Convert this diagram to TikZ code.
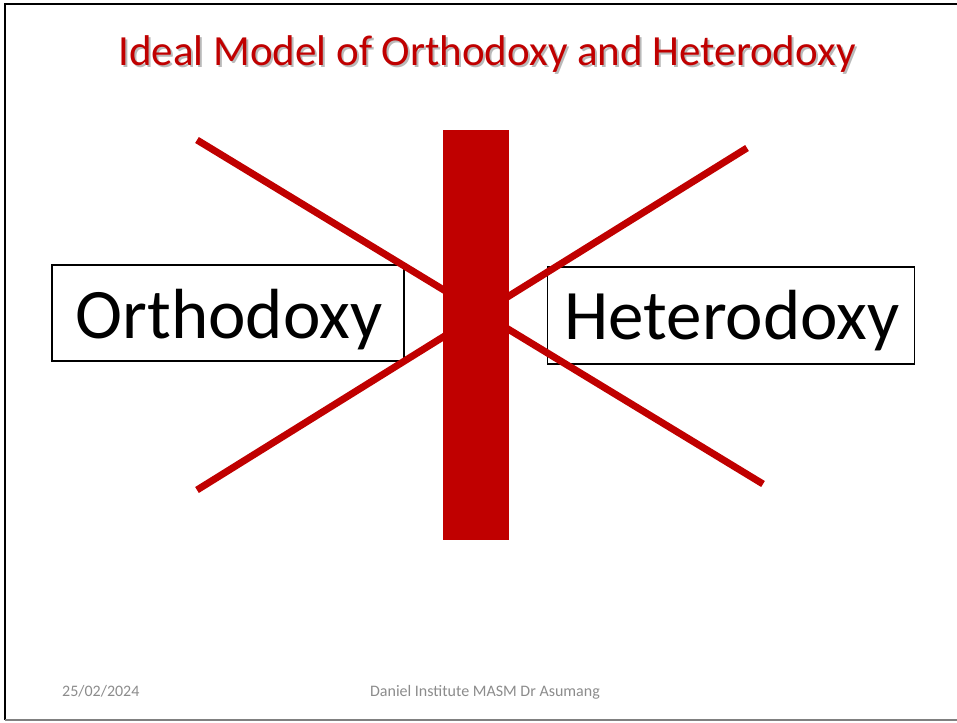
\documentclass[tikz,border=0pt]{standalone}
\usepackage{fontspec}
\setmainfont{Carlito}
\definecolor{dred}{HTML}{C00000}
\definecolor{footgray}{HTML}{8C8C8C}
\newcommand{\shadowtitle}[1]{\makebox[0pt][l]{\hspace{2pt}\raisebox{-1.5pt}{\textcolor{gray!55}{#1}}}\textcolor{dred}{#1}}
\begin{document}
\begin{tikzpicture}[x=1pt,y=-1pt,
  termbox/.style={draw=black,line width=1.6pt,fill=white,inner sep=0pt},
  termtext/.style={font=\fontsize{71}{80}\selectfont,inner sep=0pt,anchor=base},
  xline/.style={draw=dred,line width=7pt},
  titletext/.style={font=\fontsize{43}{50}\selectfont,inner sep=0pt,anchor=base},
  foot/.style={text=footgray,font=\fontsize{16}{18}\selectfont,inner sep=0pt,anchor=base}]
\useasboundingbox (0,0) rectangle (957,722);
\fill[white] (0,0) rectangle (957,722);
% slide frame
\draw[black,line width=2pt] (5,720) -- (5,4) -- (957,4);
\draw[gray,line width=1.2pt] (5,720) -- (957,720);
% title
\node (title)[titletext] at (487,66) {\shadowtitle{Ideal Model of Orthodoxy and Heterodoxy}};
% boxes
\node (ortho)[termbox,minimum width=352pt,minimum height=96pt] at (228,313) {};
\node (orthotext)[termtext] at (229,338) {Orthodoxy};
\node (hetero)[termbox,minimum width=367pt,minimum height=97pt] at (731,315.5) {};
\node (heterotext)[termtext] at (732,339) {Heterodoxy};
% crossing lines
\coordinate (a1) at (197,140);
\coordinate (a2) at (763,484);
\coordinate (b1) at (197,490);
\coordinate (b2) at (747,148);
\draw[xline] (a1) -- (a2);
\draw[xline] (b1) -- (b2);
% central bar
\node (bar)[fill=dred,minimum width=66pt,minimum height=410pt,inner sep=0pt] at (476,335) {};
% footer
\node (date)[foot,anchor=base west] at (62,696) {25/02/2024};
\node (author)[foot] at (485,696) {Daniel Institute MASM Dr Asumang};
\end{tikzpicture}
\end{document}
